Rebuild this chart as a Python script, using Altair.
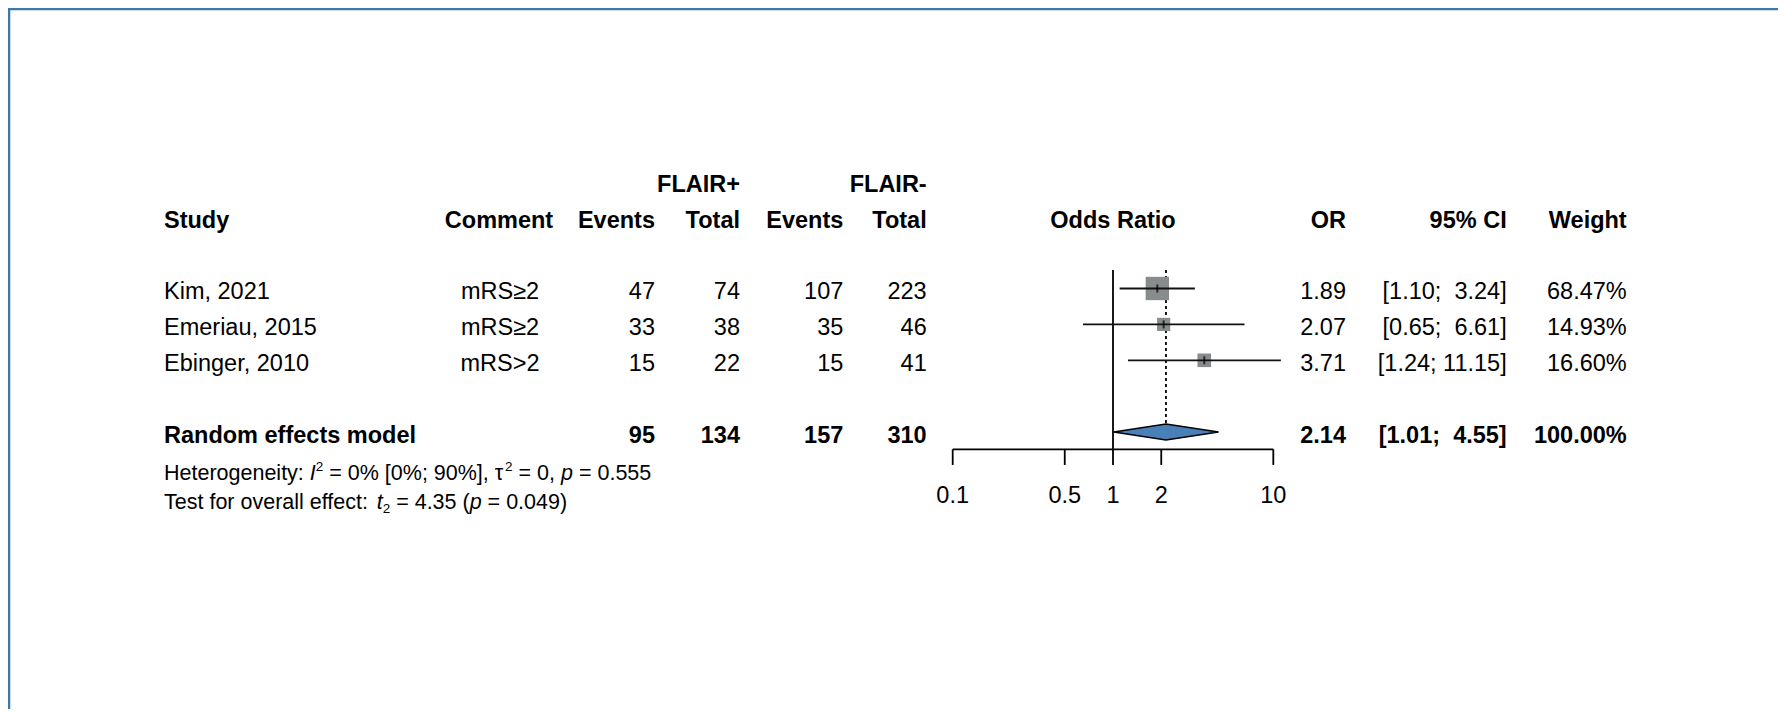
import altair as alt
import pandas as pd

# ---------------- data ----------------
studies = ["Kim, 2021", "Emeriau, 2015", "Ebinger, 2010"]
comments = ["mRS≥2", "mRS≥2", "mRS>2"]
events_pos = [47, 33, 15]
total_pos = [74, 38, 22]
events_neg = [107, 35, 15]
total_neg = [223, 46, 41]
odds_ratio = [1.89, 2.07, 3.71]
ci_lower = [1.10, 0.65, 1.24]
ci_upper = [3.24, 6.61, 11.15]
weights = [68.47, 14.93, 16.60]

pooled_label = "Random effects model"
pooled_events_pos = 95
pooled_total_pos = 134
pooled_events_neg = 157
pooled_total_neg = 310
pooled_or = 2.14
pooled_lower = 1.01
pooled_upper = 4.55
pooled_weight = 100.00

axis_ticks = [0.1, 0.5, 1, 2, 10]
axis_labels = ["0.1", "0.5", "1", "2", "10"]

group_headers = ["FLAIR+", "FLAIR-"]
col_headers = ["Study", "Comment", "Events", "Total", "Events", "Total",
               "Odds Ratio", "OR", "95% CI", "Weight"]

# heterogeneity / overall-effect statements as styled runs (text, style)
het_runs = [("Heterogeneity: ", "n"), ("I", "i"), ("2", "sup"), (" = 0% [0%; 90%], ", "n"),
            ("τ", "n"), ("2", "sup"), (" = 0, ", "n"), ("p", "i"), (" = 0.555", "n")]
test_runs = [("Test for overall effect: ", "n"), ("t", "i"), ("2", "sub"), (" = 4.35 (", "n"),
             ("p", "i"), (" = 0.049)", "n")]

# ---------------- layout / style ----------------
FONT = "Liberation Sans"
FS = 23.5
FS_SMALL = 21.5
FS_SCRIPT = 13.5
W, H = 1770, 701
NBSP = "\u00a0"

xscale = alt.Scale(type="log", domain=[0.1, 10], range=[944.7, 1265.3], nice=False)
yscale = alt.Scale(domain=[1, 5], range=[280.5, 424.1], nice=False, zero=False)

study_rows = [1, 2, 3]
pooled_row = 5


def ci_fmt(lo, hi):
    return f"[{lo:.2f}; {hi:5.2f}]".replace(" ", NBSP)


rows = pd.DataFrame({
    "row": study_rows + [pooled_row],
    "study": studies + [pooled_label],
    "comment": comments + [""],
    "ep": [str(v) for v in events_pos + [pooled_events_pos]],
    "tp": [str(v) for v in total_pos + [pooled_total_pos]],
    "en": [str(v) for v in events_neg + [pooled_events_neg]],
    "tn": [str(v) for v in total_neg + [pooled_total_neg]],
    "ortxt": [f"{v:.2f}" for v in odds_ratio + [pooled_or]],
    "ci": [ci_fmt(a, b) for a, b in zip(ci_lower + [pooled_lower], ci_upper + [pooled_upper])],
    "wt": [f"{v:.2f}%" for v in weights + [pooled_weight]],
    "bold": [False, False, False, True],
})

col_specs = [
    ("study", 156, "left"),
    ("comment", 492, "center"),
    ("ep", 647, "right"),
    ("tp", 732, "right"),
    ("en", 835.3, "right"),
    ("tn", 918.7, "right"),
    ("ortxt", 1338, "right"),
    ("ci", 1498.7, "right"),
    ("wt", 1618.7, "right"),
]

Y = alt.Y("row:Q", scale=yscale, axis=None)

layers = []

# table body
for col, xpos, al in col_specs:
    for b in (False, True):
        sub = rows[rows["bold"] == b]
        layers.append(
            alt.Chart(sub).mark_text(
                align=al, baseline="alphabetic", dy=10.8, font=FONT, fontSize=FS,
                fontWeight="bold" if b else "normal", color="black"
            ).encode(x=alt.value(xpos), y=Y, text=f"{col}:N")
        )

# headers
hdr_x = [(156, "left"), (491, "center"), (647, "right"), (732, "right"),
         (835.3, "right"), (918.7, "right"), (1105, "center"), (1338, "right"),
         (1498.7, "right"), (1618.7, "right")]
for txt, (xpos, al) in zip(col_headers, hdr_x):
    layers.append(
        alt.Chart(pd.DataFrame({"t": [txt]})).mark_text(
            align=al, baseline="alphabetic", font=FONT, fontSize=FS, fontWeight="bold", color="black"
        ).encode(x=alt.value(xpos), y=alt.value(220.3), text="t:N")
    )
for txt, xpos in zip(group_headers, [732, 918.7]):
    layers.append(
        alt.Chart(pd.DataFrame({"t": [txt]})).mark_text(
            align="right", baseline="alphabetic", font=FONT, fontSize=FS, fontWeight="bold", color="black"
        ).encode(x=alt.value(xpos), y=alt.value(183.7), text="t:N")
    )

# heterogeneity lines: runs placed with Arial/Liberation Sans advance widths
ADV = {' ': 278, '0': 556, '1': 556, '2': 556, '3': 556, '4': 556, '5': 556, '6': 556,
       '7': 556, '8': 556, '9': 556, '.': 278, ',': 278, ':': 278, ';': 278, '%': 889,
       '[': 278, ']': 278, '(': 333, ')': 333, '=': 584, 'H': 722, 'T': 611, 'I': 278,
       'a': 556, 'c': 500, 'e': 556, 'f': 278, 'g': 556, 'i': 222, 'l': 222, 'n': 556,
       'o': 556, 'p': 556, 'r': 333, 's': 500, 't': 278, 'v': 500, 'y': 500, 'τ': 480}


def text_width(s, size):
    return sum(ADV.get(ch, 556) for ch in s) * size / 1000.0


def add_runs(runs, x0, ybase):
    x = x0
    for txt, style in runs:
        size = FS_SCRIPT if style in ("sup", "sub") else FS_SMALL
        shift = -9.5 if style == "sup" else (4.0 if style == "sub" else 0.0)
        body = txt.lstrip(" ")
        x += text_width(txt[: len(txt) - len(body)], size)
        layers.append(
            alt.Chart(pd.DataFrame({"t": [body.replace(" ", NBSP)]})).mark_text(
                align="left", baseline="alphabetic", font=FONT, fontSize=size,
                fontStyle="italic" if style == "i" else "normal", color="black"
            ).encode(x=alt.value(x), y=alt.value(ybase + shift), text="t:N")
        )
        x += text_width(body, size)


add_runs(het_runs, 156, 472)
add_runs(test_runs, 156, 501.3)

# ---------------- forest plot ----------------
study_df = pd.DataFrame({
    "row": study_rows, "or": odds_ratio, "lo": ci_lower, "hi": ci_upper, "w": weights
})

# reference line at 1
layers.append(
    alt.Chart(pd.DataFrame({"v": [1]})).mark_rule(color="black", strokeWidth=1.8).encode(
        x=alt.X("v:Q", scale=xscale, axis=None), y=alt.value(262), y2=alt.value(441.3)
    )
)
# dashed line at pooled estimate
layers.append(
    alt.Chart(pd.DataFrame({"v": [pooled_or]})).mark_rule(
        color="black", strokeWidth=1.8, strokeDash=[3, 3]
    ).encode(x=alt.X("v:Q", scale=xscale, axis=None), y=alt.value(262), y2=alt.value(416))
)
# squares
layers.append(
    alt.Chart(study_df).mark_square(color="#878c8c", opacity=1, filled=True).encode(
        x=alt.X("or:Q", scale=xscale, axis=None), y=Y,
        size=alt.Size("w:Q", scale=alt.Scale(domain=[0, max(weights)], range=[70, 545]), legend=None),
    )
)
# CI lines
layers.append(
    alt.Chart(study_df).mark_rule(color="#111111", strokeWidth=1.8).encode(
        x=alt.X("lo:Q", scale=xscale, axis=None), x2="hi:Q", y=Y
    )
)
# point estimate ticks
layers.append(
    alt.Chart(study_df).mark_tick(color="black", orient="vertical", size=8, thickness=2).encode(
        x=alt.X("or:Q", scale=xscale, axis=None), y=Y
    )
)
# diamond
half = 8 / 35.9
dia = pd.DataFrame({
    "x": [pooled_lower, pooled_or, pooled_upper],
    "y1": [pooled_row, pooled_row - half, pooled_row],
    "y2": [pooled_row, pooled_row + half, pooled_row],
})
layers.append(
    alt.Chart(dia).mark_area(
        orient="vertical", color="#4a80b8", fill="#4a80b8", stroke="black", strokeWidth=1.5, opacity=1
    ).encode(
        x=alt.X("x:Q", scale=xscale, axis=None),
        y=alt.Y("y1:Q", scale=yscale, axis=None), y2="y2:Q"
    )
)

# axis
ax_df = pd.DataFrame({"a": [min(axis_ticks)], "b": [max(axis_ticks)]})
layers.append(
    alt.Chart(ax_df).mark_rule(color="black", strokeWidth=1.8).encode(
        x=alt.X("a:Q", scale=xscale, axis=None), x2="b:Q", y=alt.value(441.3)
    )
)
tick_df = pd.DataFrame({"t": axis_ticks, "lab": axis_labels})
layers.append(
    alt.Chart(tick_df).mark_rule(color="black", strokeWidth=1.8).encode(
        x=alt.X("t:Q", scale=xscale, axis=None), y=alt.value(441.3), y2=alt.value(457)
    )
)
layers.append(
    alt.Chart(tick_df).mark_text(
        align="center", baseline="alphabetic", font=FONT, fontSize=FS, color="black"
    ).encode(x=alt.X("t:Q", scale=xscale, axis=None), y=alt.value(495.3), text="lab:N")
)

# frame (top and left)
frame = pd.DataFrame({"k": [0]})
layers.append(
    alt.Chart(frame).mark_rule(color="#3a7aa3", strokeWidth=2.5).encode(
        x=alt.value(1), y=alt.value(0), y2=alt.value(H)
    )
)
layers.append(
    alt.Chart(frame).mark_rule(color="#3a7aa3", strokeWidth=2.5).encode(
        x=alt.value(0), x2=alt.value(W), y=alt.value(1)
    )
)

chart = alt.layer(*layers).properties(
    width=W, height=H, autosize=alt.AutoSizeParams(type="none"), padding=0,
    background="white"
).configure_view(stroke=None)

chart.save("out.html", embed_options={"renderer": "svg", "actions": False})
